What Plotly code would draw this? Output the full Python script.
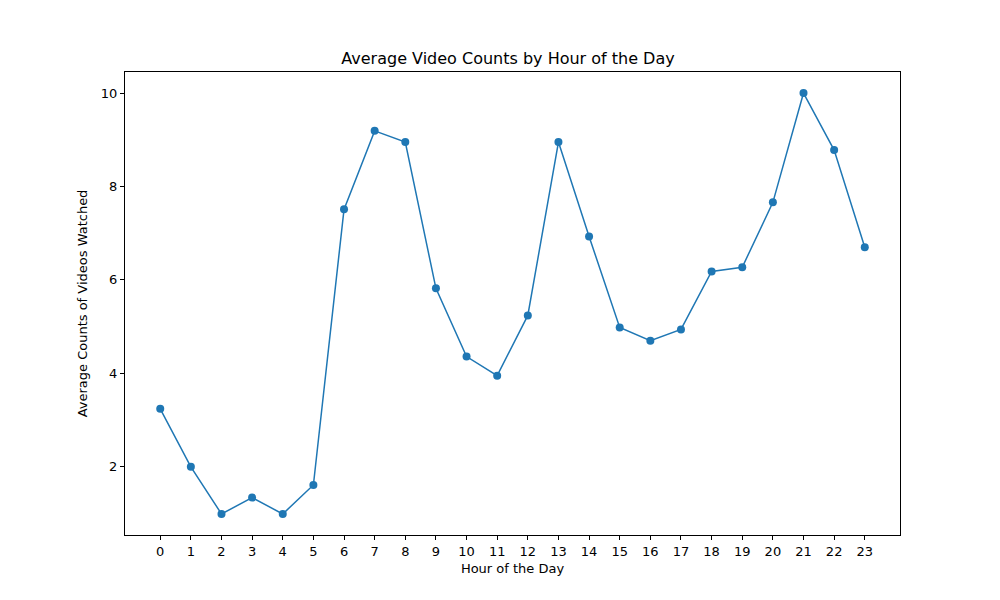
import plotly.graph_objects as go

hours = list(range(24))
avg_counts = [3.24, 2.0, 0.99, 1.34, 0.99, 1.61, 7.51, 9.19, 8.95, 5.82, 4.36, 3.95,
              5.24, 8.95, 6.93, 4.98, 4.70, 4.94, 6.18, 6.27, 7.66, 10.0, 8.78, 6.70]

fig = go.Figure(go.Scatter(x=hours, y=avg_counts, mode="lines+markers",
                           line=dict(color="#1f77b4", width=1.5),
                           marker=dict(color="#1f77b4", size=8)))
axis_common = dict(showgrid=False, zeroline=False, showline=True, mirror=True,
                   linecolor="black", linewidth=1, ticks="outside", ticklen=4,
                   tickcolor="black", tickfont=dict(size=13, color="black"))
fig.update_layout(
    width=1000, height=600, plot_bgcolor="white", paper_bgcolor="white",
    font=dict(family="DejaVu Sans", color="black", size=13),
    margin=dict(l=117, r=108, t=64, b=73),
    title=dict(text="Average Video Counts by Hour of the Day", x=0.5, xanchor="center",
               y=1 - 50/600, yanchor="middle", font=dict(size=16)),
    xaxis=dict(axis_common, range=[-1.15, 24.15], tickmode="array", tickvals=hours,
               title=dict(text="Hour of the Day", standoff=6, font=dict(size=13))),
    yaxis=dict(axis_common, range=[0.54, 10.45], tickvals=[2, 4, 6, 8, 10],
               title=dict(text="Average Counts of Videos Watched", standoff=10, font=dict(size=13))),
    showlegend=False,
)
fig.write_html("out.html")
